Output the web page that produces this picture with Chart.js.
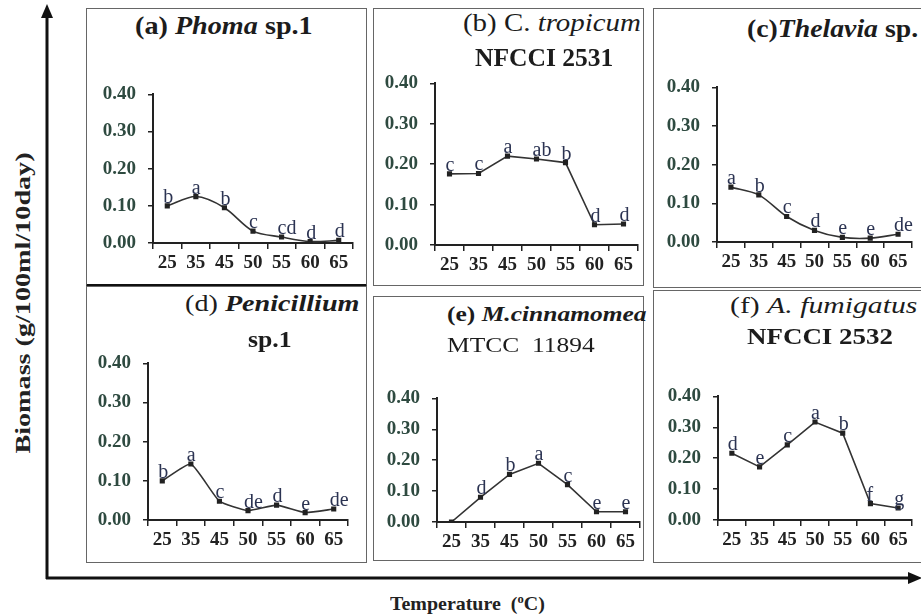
<!DOCTYPE html>
<html>
<head>
<meta charset="utf-8">
<script src="https://cdn.jsdelivr.net/npm/chart.js@4.4.0/dist/chart.umd.min.js"></script>
<style>
  html, body { margin: 0; padding: 0; background: #fff; }
  body { width: 921px; height: 616px; position: relative; overflow: hidden; font-family: "Liberation Serif", "DejaVu Serif", serif; color: #1c1c1c; }
  .panel { position: absolute; border: 1.5px solid #666; box-sizing: border-box; overflow: hidden; background: #fff; }
  .panel canvas { position: absolute; }
  .ttl { position: absolute; white-space: nowrap; line-height: 1; color: #1c1c1c; transform-origin: 0 50%; }
  #ylab { position: absolute; left: 23px; top: 303px; white-space: nowrap; font-weight: bold; font-size: 22px; color: #222;
          transform: translate(-50%, -50%) rotate(-90deg) scaleX(1.28); }
  #xlab { position: absolute; left: 390px; top: 592px; white-space: nowrap; font-weight: bold; font-size: 19px; color: #222;
          transform-origin: 0 50%; transform: scaleX(1.05); }
  svg { position: absolute; left: 0; top: 0; }
</style>
</head>
<body>
<svg width="921" height="616">
  <line x1="47" y1="16" x2="47" y2="579" stroke="#111" stroke-width="3"/>
  <polygon points="47,4 41,18 53,18" fill="#111"/>
  <line x1="46" y1="578" x2="912" y2="578" stroke="#111" stroke-width="3"/>
  <polygon points="922,578 908,572 908,584" fill="#111"/>
</svg>
<div id="ylab">Biomass (g/100ml/10day)</div>
<div id="xlab">Temperature&nbsp; (<sup style="font-size:12px">o</sup>C)</div>
<script>
// temperatures (°C) on every x axis
const temps = ['25', '35', '45', '50', '55', '60', '65']
const yTicks = [0, 0.1, 0.2, 0.3, 0.4]

// biomass (g/100ml/10day) and significance letters per fungus
const phoma = [0.100, 0.125, 0.095, 0.032, 0.016, 0.004, 0.007]
const phomaLetters = ['b', 'a', 'b', 'c', 'cd', 'd', 'd']

const tropicum = [0.176, 0.177, 0.220, 0.213, 0.204, 0.050, 0.052]
const tropicumLetters = ['c', 'c', 'a', 'ab', 'b', 'd', 'd']

const thelavia = [0.142, 0.122, 0.066, 0.030, 0.012, 0.010, 0.020]
const thelaviaLetters = ['a', 'b', 'c', 'd', 'e', 'e', 'de']

const penicillium = [0.100, 0.143, 0.048, 0.024, 0.038, 0.019, 0.028]
const penicilliumLetters = ['b', 'a', 'c', 'de', 'd', 'e', 'de']

const cinnamomea = [0.000, 0.080, 0.154, 0.190, 0.121, 0.033, 0.033]
const cinnamomeaLetters = ['', 'd', 'b', 'a', 'c', 'e', 'e']

const fumigatus = [0.216, 0.172, 0.243, 0.317, 0.281, 0.053, 0.039]
const fumigatusLetters = ['d', 'e', 'c', 'a', 'b', 'f', 'g']

// layout: panel box, plot area, titles (w = width the title spans)
const panels = [
  { data: phoma, letters: phomaLetters, tension: 0.3,
    box: [86, 8, 367, 288], plot: [153, 83, 353, 243],
    titles: [{ html: '(a) <i>Phoma</i> sp.1', x: 135, y: 25, w: 178, size: 25, bold: true }] },
  { data: tropicum, letters: tropicumLetters, tension: 0,
    box: [373, 8, 644, 286], plot: [435, 72, 638, 245],
    titles: [{ html: '(b) C. <i>tropicum</i>', x: 463, y: 22, w: 178, size: 25, bold: false },
             { html: 'NFCCI 2531', x: 475, y: 57, w: 138, size: 25, bold: true }] },
  { data: thelavia, letters: thelaviaLetters, tension: 0.3,
    box: [653, 8, 925, 288], plot: [717, 76, 912, 242],
    titles: [{ html: '(c)<i>Thelavia</i> sp.', x: 747, y: 28, w: 171, size: 25, bold: true }] },
  { data: penicillium, letters: penicilliumLetters, tension: 0.15,
    box: [86, 286, 367, 563], plot: [148, 352, 348, 520],
    titles: [{ html: '(d) <b><i>Penicillium</i></b>', x: 185, y: 303, w: 175, size: 24, bold: false },
             { html: 'sp.1', x: 248, y: 339, w: 44, size: 24, bold: true }] },
  { data: cinnamomea, letters: cinnamomeaLetters, tension: 0,
    box: [373, 296, 644, 561], plot: [437, 387, 640, 522],
    titles: [{ html: '(e) <i>M.cinnamomea</i>', x: 447, y: 314, w: 200, size: 20, bold: true },
             { html: 'MTCC&nbsp; 11894', x: 447, y: 345, w: 148, size: 21, bold: false }] },
  { data: fumigatus, letters: fumigatusLetters, tension: 0,
    box: [653, 290, 925, 563], plot: [718, 385, 912, 520],
    titles: [{ html: '(f) <i>A. fumigatus</i>', x: 730, y: 305, w: 187, size: 24, bold: false },
             { html: 'NFCCI 2532', x: 747, y: 336, w: 146, size: 24, bold: true }] }
]

const Y_W = 62, X_H = 34, PAD_T = 12, PAD_R = 6

const lettersPlugin = {
  id: 'letters',
  afterDatasetsDraw(chart, args, opts) {
    const ctx = chart.ctx
    const pts = chart.getDatasetMeta(0).data
    ctx.save()
    ctx.font = '20px "Liberation Serif", serif'
    ctx.fillStyle = '#2b3352'
    ctx.textAlign = 'left'
    ctx.textBaseline = 'alphabetic'
    pts.forEach((p, i) => {
      const t = opts.labels[i]
      if (t) ctx.fillText(t, p.x - 4, p.y - 3)
    })
    ctx.restore()
  }
}

panels.forEach(p => {
  const [bl, bt, br, bb] = p.box
  const div = document.createElement('div')
  div.className = 'panel'
  div.style.left = bl + 'px'
  div.style.top = bt + 'px'
  div.style.width = (br - bl) + 'px'
  div.style.height = (bb - bt) + 'px'
  if (p === panels[0]) div.style.borderBottom = '4px solid #111'
  document.body.appendChild(div)

  const [pl, ptop, pr, pb] = p.plot
  const cv = document.createElement('canvas')
  cv.width = Y_W + (pr - pl) + PAD_R
  cv.height = PAD_T + (pb - ptop) + X_H
  cv.style.left = (pl - Y_W - bl - 1.5) + 'px'
  cv.style.top = (ptop - PAD_T - bt - 1.5) + 'px'
  div.appendChild(cv)

  new Chart(cv, {
    type: 'line',
    data: {
      labels: temps,
      datasets: [{
        data: p.data,
        borderColor: '#333',
        borderWidth: 1.6,
        tension: p.tension,
        pointStyle: 'rect',
        pointRadius: 2.5,
        pointBackgroundColor: '#222',
        pointBorderColor: '#222',
        fill: false
      }]
    },
    options: {
      responsive: false,
      animation: false,
      devicePixelRatio: 1,
      layout: { padding: { top: PAD_T, right: PAD_R, left: 0, bottom: 0 } },
      plugins: { legend: { display: false }, tooltip: { enabled: false }, letters: { labels: p.letters } },
      scales: {
        x: {
          type: 'category',
          offset: true,
          grid: { offset: true, drawOnChartArea: false, tickLength: 6, color: '#222', lineWidth: 1.5 },
          border: { display: true, color: '#222', width: 2 },
          ticks: { font: { family: '"Liberation Serif", serif', size: 19, weight: 'bold' }, color: '#222', padding: 3, maxRotation: 0, autoSkip: false },
          afterFit: s => { s.height = X_H }
        },
        y: {
          min: 0, max: 0.4,
          afterBuildTicks: s => { s.ticks = yTicks.map(v => ({ value: v })) },
          grid: { drawOnChartArea: false, tickLength: 5, color: '#222', lineWidth: 1.5 },
          border: { display: true, color: '#222', width: 2 },
          ticks: { font: { family: '"Liberation Serif", serif', size: 19, weight: 'bold' }, color: '#2e4a40', padding: 12,
                   callback: v => Number(v).toFixed(2) },
          afterFit: s => { s.width = Y_W }
        }
      }
    },
    plugins: [lettersPlugin]
  })

  p.titles.forEach(t => {
    const d = document.createElement('div')
    d.className = 'ttl'
    d.innerHTML = t.html
    d.style.left = t.x + 'px'
    d.style.top = (t.y - t.size * 0.5) + 'px'
    d.style.fontSize = t.size + 'px'
    d.style.fontWeight = t.bold ? 'bold' : 'normal'
    document.body.appendChild(d)
    d.style.transform = 'scaleX(' + (t.w / d.offsetWidth).toFixed(3) + ')'
  })
})
</script>
</body>
</html>
